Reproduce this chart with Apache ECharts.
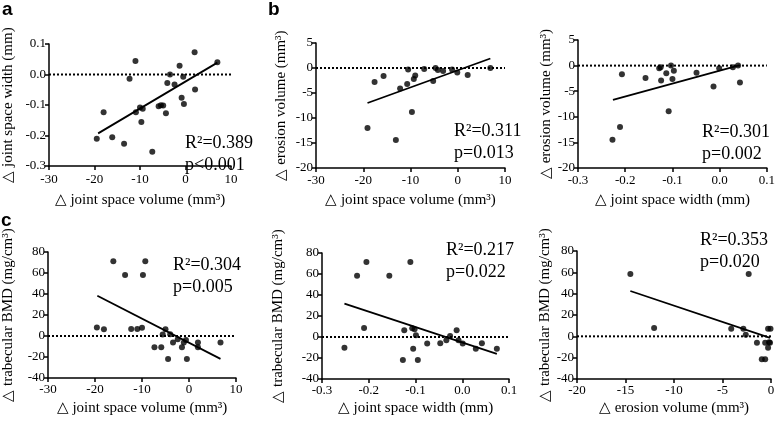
<!DOCTYPE html>
<html>
<head>
<meta charset="utf-8">
<script src="https://cdn.jsdelivr.net/npm/echarts@6/dist/echarts.min.js"></script>
<style>
html,body{margin:0;padding:0;background:#fff;}
#chart{width:778px;height:423px;}
</style>
</head>
<body>
<div id="chart"></div>
<script>
// ---------- DATA ----------
// Panel a: Δ joint space volume vs Δ joint space width
const aX = [-19.5, -18.0, -16.1, -13.5, -12.3, -11.0, -10.9, -10.0, -9.7, -9.4, -7.3, -5.9, -5.4, -4.9, -4.3, -4.0, -3.4, -2.4, -1.3, -0.85, -0.5, -0.35, 2.0, 2.1, 7.0];
const aY = [-0.211, -0.124, -0.206, -0.227, -0.014, 0.044, -0.124, -0.108, -0.156, -0.112, -0.253, -0.104, -0.101, -0.102, -0.127, -0.028, 0.0, -0.033, 0.029, -0.076, -0.007, -0.097, 0.073, -0.049, 0.040];
const aFitX = [-19.2, 7.0];
const aFitY = [-0.193, 0.039];
const aXTicks = [-30, -20, -10, 0, 10];
const aYTicks = [-0.3, -0.2, -0.1, 0.0, 0.1];

// Panel b (left): Δ joint space volume vs Δ erosion volume
const b1X = [-19.1, -17.6, -15.7, -13.1, -12.2, -10.7, -10.5, -9.7, -9.3, -9.0, -7.1, -5.2, -4.7, -4.2, -3.1, -1.2, -0.1, 2.1, 6.9];
const b1Y = [-12.0, -2.8, -1.6, -14.4, -4.1, -3.2, -0.3, -8.8, -2.2, -1.5, -0.2, -2.6, 0.0, -0.4, -0.6, -0.3, -0.9, -1.4, 0.0];
const b1FitX = [-19.1, 6.9];
const b1FitY = [-7.0, 1.9];
const b1XTicks = [-30, -20, -10, 0, 10];
const b1YTicks = [-20, -15, -10, -5, 0, 5];

// Panel b (right): Δ joint space width vs Δ erosion volume
const b2X = [-0.227, -0.211, -0.207, -0.157, -0.128, -0.125, -0.124, -0.113, -0.108, -0.103, -0.100, -0.097, -0.049, -0.013, -0.001, 0.028, 0.039, 0.043];
const b2Y = [-14.5, -12.0, -1.7, -2.4, -0.5, -0.3, -2.9, -1.5, -8.9, 0.0, -2.6, -1.0, -1.4, -4.1, -0.5, -0.3, 0.0, -3.3];
const b2FitX = [-0.226, 0.039];
const b2FitY = [-6.7, 0.0];
const b2XTicks = [-0.3, -0.2, -0.1, 0.0, 0.1];
const b2YTicks = [-20, -15, -10, -5, 0, 5];

// Panel c (left): Δ joint space volume vs Δ trabecular BMD
const c1X = [-19.6, -18.1, -16.1, -13.6, -12.3, -11.0, -10.0, -9.8, -9.3, -7.35, -5.9, -5.6, -5.0, -4.45, -4.0, -3.4, -2.4, -1.5, -1.1, -0.65, -0.45, 1.9, 1.9, 6.7];
const c1Y = [8.0, 6.4, 71.2, 58.0, 6.6, 6.6, 7.8, 58.2, 71.2, -10.8, -10.8, 1.5, 6.5, -22.0, 1.6, -6.3, -3.2, -10.8, -6.3, -3.8, -22.0, -6.3, -10.8, -6.3];
const c1FitX = [-19.5, 6.7];
const c1FitY = [38.3, -21.8];
const c1XTicks = [-30, -20, -10, 0, 10];
const c1YTicks = [-40, -20, 0, 20, 40, 60, 80];

// Panel c (middle): Δ joint space width vs Δ trabecular BMD
const c2X = [-0.252, -0.225, -0.210, -0.205, -0.156, -0.127, -0.124, -0.111, -0.107, -0.105, -0.102, -0.099, -0.095, -0.075, -0.047, -0.034, -0.026, -0.012, -0.008, 0.001, 0.029, 0.042, 0.074];
const c2Y = [-10.3, 58.3, 8.6, 71.4, 58.3, -21.9, 6.4, 71.4, 8.3, -11.1, 7.3, 1.6, -21.9, -6.3, -6.0, -3.1, 1.0, 6.4, -3.1, -6.3, -11.1, -6.0, -11.1];
const c2FitX = [-0.252, 0.074];
const c2FitY = [31.8, -16.0];
const c2XTicks = [-0.3, -0.2, -0.1, 0.0, 0.1];
const c2YTicks = [-40, -20, 0, 20, 40, 60, 80];

// Panel c (right): Δ erosion volume vs Δ trabecular BMD
const c3X = [-14.5, -12.05, -4.1, -2.85, -2.6, -2.3, -1.45, -0.95, -0.6, -0.6, -0.3, -0.05, -0.2, -0.3, -0.1];
const c3Y = [58.4, 7.8, 7.1, 7.1, 1.5, 58.4, -6.0, -21.6, -21.6, -6.0, 7.1, 7.1, -5.6, -10.7, -6.0];
const c3FitX = [-14.5, -0.1];
const c3FitY = [42.5, -1.5];
const c3XTicks = [-20, -15, -10, -5, 0];
const c3YTicks = [-40, -20, 0, 20, 40, 60, 80];

const statR2 = ['0.389', '0.311', '0.301', '0.304', '0.217', '0.353'];
const statP = ['p<0.001', 'p=0.013', 'p=0.002', 'p=0.005', 'p=0.022', 'p=0.020'];

const xNames = ['△ joint space volume (mm³)', '△ joint space volume (mm³)', '△ joint space width (mm)',
                '△ joint space volume (mm³)', '△ joint space width (mm)', '△ erosion volume (mm³)'];
const yNames = ['△ joint space width (mm)', '△ erosion volume (mm³)', '△ erosion volume (mm³)',
                '△ trabecular BMD (mg/cm³)', '△ trabecular BMD (mg/cm³)', '△ trabecular BMD (mg/cm³)'];

// ---------- LAYOUT ----------
const SERIF = "'Liberation Serif', 'Times New Roman', serif";
const panels = [
  {x: aX, y: aY, fx: aFitX, fy: aFitY, xt: aXTicks, yt: aYTicks, dec: [0, 1],
   grid: {left: 49, top: 44, width: 182, height: 122}, yGap: 33, xGap: 27, xMargin: 7, stat: [185, 134]},
  {x: b1X, y: b1Y, fx: b1FitX, fy: b1FitY, xt: b1XTicks, yt: b1YTicks, dec: [0, 0],
   grid: {left: 316, top: 43, width: 189, height: 125}, yGap: 27, xGap: 25, xMargin: 6, stat: [454, 122]},
  {x: b2X, y: b2Y, fx: b2FitX, fy: b2FitY, xt: b2XTicks, yt: b2YTicks, dec: [1, 0],
   grid: {left: 578, top: 40, width: 192, height: 128}, yGap: 24, xGap: 25, xMargin: 6, stat: [702, 123]},
  {x: c1X, y: c1Y, fx: c1FitX, fy: c1FitY, xt: c1XTicks, yt: c1YTicks, dec: [0, 0],
   grid: {left: 47, top: 252, width: 189, height: 126}, yGap: 32, xGap: 23, xMargin: 5, stat: [173, 256]},
  {x: c2X, y: c2Y, fx: c2FitX, fy: c2FitY, xt: c2XTicks, yt: c2YTicks, dec: [1, 0],
   grid: {left: 322, top: 253, width: 187, height: 126}, yGap: 36, xGap: 22, xMargin: 5, stat: [446, 241]},
  {x: c3X, y: c3Y, fx: c3FitX, fy: c3FitY, xt: c3XTicks, yt: c3YTicks, dec: [0, 0],
   grid: {left: 577, top: 251, width: 194, height: 128}, yGap: 24, xGap: 22, xMargin: 5, stat: [700, 231]}
];

function fmt(v, d) {
  const n = Math.abs(v) < 1e-9 ? 0 : Number(v);
  return n.toFixed(d);
}

const grids = [], xAxes = [], yAxes = [], series = [], graphics = [];
const axisCommon = {
  axisLine: {onZero: false, lineStyle: {color: '#000', width: 1.5}},
  axisTick: {show: true, inside: false, length: 4, lineStyle: {color: '#000', width: 1.5}},
  splitLine: {show: false},
  nameTextStyle: {color: '#000', fontFamily: SERIF, fontSize: 15}
};

panels.forEach((p, i) => {
  grids.push(Object.assign({containLabel: false}, p.grid));
  const xmin = p.xt[0], xmax = p.xt[p.xt.length - 1];
  const ymin = p.yt[0], ymax = p.yt[p.yt.length - 1];
  xAxes.push(Object.assign({}, axisCommon, {
    type: 'value', gridIndex: i, min: xmin, max: xmax, interval: p.xt[1] - p.xt[0],
    name: xNames[i], nameLocation: 'middle', nameGap: p.xGap,
    axisLabel: {color: '#000', fontFamily: SERIF, fontSize: 13, margin: p.xMargin,
      showMinLabel: true, showMaxLabel: true,
      formatter: v => fmt(v, p.dec[0])}
  }));
  yAxes.push(Object.assign({}, axisCommon, {
    type: 'value', gridIndex: i, min: ymin, max: ymax, interval: p.yt[1] - p.yt[0],
    name: yNames[i], nameLocation: 'middle', nameGap: p.yGap,
    axisLabel: {color: '#000', fontFamily: SERIF, fontSize: 13, margin: 3,
      showMinLabel: true, showMaxLabel: true,
      formatter: v => fmt(v, p.dec[1])}
  }));
  // zero reference line (dotted)
  series.push({
    type: 'line', xAxisIndex: i, yAxisIndex: i, symbol: 'none', silent: true,
    data: [[xmin, 0], [xmax, 0]],
    lineStyle: {color: '#000', width: 2, type: [2, 2]}, z: 2
  });
  // regression line
  series.push({
    type: 'line', xAxisIndex: i, yAxisIndex: i, symbol: 'none', silent: true,
    data: p.fx.map((v, k) => [v, p.fy[k]]),
    lineStyle: {color: '#000', width: 1.8}, z: 3
  });
  // points
  series.push({
    type: 'scatter', xAxisIndex: i, yAxisIndex: i, symbol: 'circle', symbolSize: 6,
    data: p.x.map((v, k) => [v, p.y[k]]),
    itemStyle: {color: '#000'}, z: 4
  });
  graphics.push({
    type: 'text', left: p.stat[0], top: p.stat[1],
    style: {text: 'R²=' + statR2[i], fill: '#000', font: '18px ' + SERIF}
  });
  graphics.push({
    type: 'text', left: p.stat[0], top: p.stat[1] + 22,
    style: {text: statP[i], fill: '#000', font: '18px ' + SERIF}
  });
});

graphics.push({type: 'text', left: 2, top: 0, style: {text: 'a', fill: '#000', font: 'bold 19px "Liberation Sans", Arial, sans-serif'}});
graphics.push({type: 'text', left: 268, top: 0, style: {text: 'b', fill: '#000', font: 'bold 19px "Liberation Sans", Arial, sans-serif'}});
graphics.push({type: 'text', left: 1, top: 211, style: {text: 'c', fill: '#000', font: 'bold 19px "Liberation Sans", Arial, sans-serif'}});

const chart = echarts.init(document.getElementById('chart'), null, {renderer: 'canvas'});
chart.setOption({
  animation: false,
  backgroundColor: '#fff',
  textStyle: {fontFamily: SERIF, color: '#000'},
  grid: grids,
  xAxis: xAxes,
  yAxis: yAxes,
  series: series,
  graphic: graphics
});
</script>
</body>
</html>
